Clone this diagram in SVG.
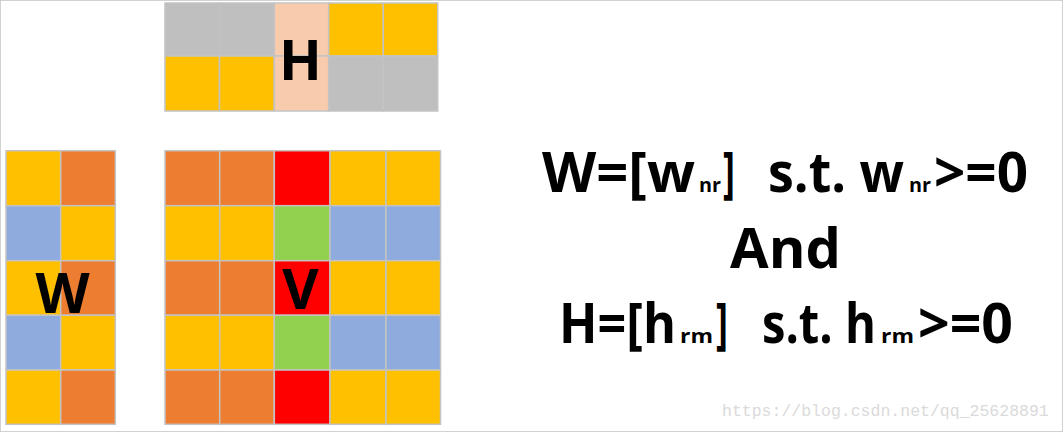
<svg xmlns="http://www.w3.org/2000/svg" width="1063" height="432" viewBox="0 0 1063 432">
<style>
rect{stroke:#C3C3C3;stroke-width:1.5}
.o{fill:#ED7D31}.y{fill:#FFC000}.b{fill:#8FAADC}.g{fill:#92D050}.r{fill:#FF0000}.s{fill:#BFBFBF}.p{fill:#F8CBAD}
.t{font-family:"Open Sans","Liberation Sans",sans-serif;font-weight:bold;font-size:56px;fill:#000}
.sub{font-family:"Open Sans","Liberation Sans",sans-serif;font-weight:bold;font-size:19px;fill:#000}
.wm{font-family:"Liberation Mono",monospace;font-size:16.5px;fill:#DADADA}
</style>
<rect width="1063" height="432" fill="#fff" stroke="none"/>
<g id="H">
<rect class="s" x="165" y="3" width="54.5" height="53"/>
<rect class="s" x="219.5" y="3" width="54.8" height="53"/>
<rect class="p" x="274.3" y="3" width="54.4" height="53"/>
<rect class="y" x="328.7" y="3" width="54.6" height="53"/>
<rect class="y" x="383.3" y="3" width="54.4" height="53"/>
<rect class="y" x="165" y="56" width="54.5" height="55"/>
<rect class="y" x="219.5" y="56" width="54.8" height="55"/>
<rect class="p" x="274.3" y="56" width="54.4" height="55"/>
<rect class="s" x="328.7" y="56" width="54.6" height="55"/>
<rect class="s" x="383.3" y="56" width="54.4" height="55"/>
<text class="t" x="300.5" y="80" text-anchor="middle">H</text>
</g>
<g id="W">
<rect class="y" x="6" y="150.7" width="54.7" height="55"/>
<rect class="o" x="60.7" y="150.7" width="54.6" height="55"/>
<rect class="b" x="6" y="205.7" width="54.7" height="55"/>
<rect class="y" x="60.7" y="205.7" width="54.6" height="55"/>
<rect class="y" x="6" y="260.7" width="54.7" height="54.6"/>
<rect class="o" x="60.7" y="260.7" width="54.6" height="54.6"/>
<rect class="b" x="6" y="315.3" width="54.7" height="54.7"/>
<rect class="y" x="60.7" y="315.3" width="54.6" height="54.7"/>
<rect class="y" x="6" y="370" width="54.7" height="54.3"/>
<rect class="o" x="60.7" y="370" width="54.6" height="54.3"/>
<text class="t" x="62.5" y="313" text-anchor="middle">W</text>
</g>
<g id="V">
<rect class="o" x="165" y="150.7" width="54.7" height="55"/>
<rect class="o" x="219.7" y="150.7" width="54.6" height="55"/>
<rect class="r" x="274.3" y="150.7" width="55.7" height="55"/>
<rect class="y" x="330" y="150.7" width="56" height="55"/>
<rect class="y" x="386" y="150.7" width="54.5" height="55"/>
<rect class="y" x="165" y="205.7" width="54.7" height="55"/>
<rect class="y" x="219.7" y="205.7" width="54.6" height="55"/>
<rect class="g" x="274.3" y="205.7" width="55.7" height="55"/>
<rect class="b" x="330" y="205.7" width="56" height="55"/>
<rect class="b" x="386" y="205.7" width="54.5" height="55"/>
<rect class="o" x="165" y="260.7" width="54.7" height="54.6"/>
<rect class="o" x="219.7" y="260.7" width="54.6" height="54.6"/>
<rect class="r" x="274.3" y="260.7" width="55.7" height="54.6"/>
<rect class="y" x="330" y="260.7" width="56" height="54.6"/>
<rect class="y" x="386" y="260.7" width="54.5" height="54.6"/>
<rect class="y" x="165" y="315.3" width="54.7" height="54.7"/>
<rect class="y" x="219.7" y="315.3" width="54.6" height="54.7"/>
<rect class="g" x="274.3" y="315.3" width="55.7" height="54.7"/>
<rect class="b" x="330" y="315.3" width="56" height="54.7"/>
<rect class="b" x="386" y="315.3" width="54.5" height="54.7"/>
<rect class="o" x="165" y="370" width="54.7" height="54.3"/>
<rect class="o" x="219.7" y="370" width="54.6" height="54.3"/>
<rect class="r" x="274.3" y="370" width="55.7" height="54.3"/>
<rect class="y" x="330" y="370" width="56" height="54.3"/>
<rect class="y" x="386" y="370" width="54.5" height="54.3"/>
<text class="t" x="300.5" y="309" text-anchor="middle">V</text>
</g>
<g id="formula1">
<text class="t" x="542" y="191.5" textLength="153" lengthAdjust="spacingAndGlyphs">W=[w</text>
<text class="sub" x="699" y="191.5" textLength="22" lengthAdjust="spacingAndGlyphs">nr</text>
<text class="t" x="723" y="191.5" textLength="12" lengthAdjust="spacingAndGlyphs">]</text>
<text class="t" x="768" y="191.5" textLength="136" lengthAdjust="spacingAndGlyphs">s.t. w</text>
<text class="sub" x="909" y="191.5" textLength="22" lengthAdjust="spacingAndGlyphs">nr</text>
<text class="t" x="934" y="191.5" textLength="94" lengthAdjust="spacingAndGlyphs">&gt;=0</text>
</g>
<g id="formula2">
<text class="t" x="785.5" y="268" text-anchor="middle">And</text>
</g>
<g id="formula3">
<text class="t" x="559" y="343" textLength="117" lengthAdjust="spacingAndGlyphs">H=[h</text>
<text class="sub" x="680" y="343" textLength="33" lengthAdjust="spacingAndGlyphs">rm</text>
<text class="t" x="716" y="343" textLength="12" lengthAdjust="spacingAndGlyphs">]</text>
<text class="t" x="762" y="343" textLength="114" lengthAdjust="spacingAndGlyphs">s.t. h</text>
<text class="sub" x="881" y="343" textLength="33" lengthAdjust="spacingAndGlyphs">rm</text>
<text class="t" x="918" y="343" textLength="95" lengthAdjust="spacingAndGlyphs">&gt;=0</text>
</g>
<text class="wm" x="722" y="416">https://blog.csdn.net/qq_25628891</text>
</svg>
